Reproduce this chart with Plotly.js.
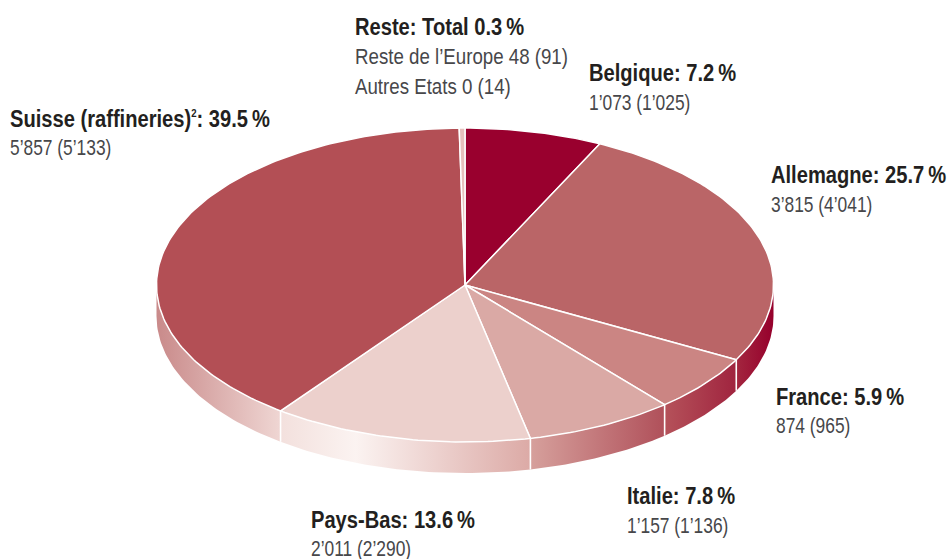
<!DOCTYPE html>
<html><head><meta charset="utf-8">
<script src="https://cdn.plot.ly/plotly-3.0.1.min.js"></script>
<style>html,body{margin:0;padding:0;background:#fff}#c{width:951px;height:559px}</style>
</head><body><div id="c"></div>
<script>
const categories = ["Belgique","Allemagne","France","Italie","Pays-Bas","Suisse (raffineries)","Reste"];
const percents = [7.2,25.7,5.9,7.8,13.6,39.5,0.3];
const colors = ["#99002e","#ba6567","#cb8583","#daa9a5","#ecd0cc","#b34f55","#e6c0bc"];
const wallScales = [null,
  [[0,"#a3263f"],[1,"#96002c"]],
  [[0,"#b5525a"],[1,"#a0243f"]],
  [[0,"#d6a09c"],[1,"#b0505a"]],
  [[0,"#f3e0dd"],[0.3,"#fbf3f1"],[1,"#dcaaa6"]],
  [[0,"#c98a8a"],[1,"#efd6d3"]],
  null];
const heads = ["Belgique: 7.2\u2009%","Allemagne: 25.7\u2009%","France: 5.9\u2009%","Italie: 7.8\u2009%","Pays-Bas: 13.6\u2009%","Suisse (raffineries)<sup><span style=\"font-size:11px\">2</span></sup>: 39.5\u2009%","Reste: Total 0.3\u2009%"];
const subs = [["1’073 (1’025)"],["3’815 (4’041)"],["874 (965)"],["1’157 (1’136)"],["2’011 (2’290)"],["5’857 (5’133)"],["Reste de l’Europe 48 (91)","Autres Etats 0 (14)"]];
const labelX = [588,770,775,626,310,9,354];
const labelY = [73,175,397,496,520,119,27];
const subY = [[102],[204],[425.5],[525],[548],[147],[56.5,86]];

const cx=465, cy=285, rx=308.5, ry=157, depth=31;
const pt=(d,off)=>[cx+rx*Math.sin(d*Math.PI/180), cy-ry*Math.cos(d*Math.PI/180)+off];
function arc(a,b,off){const xs=[],ys=[];const n=Math.max(2,Math.ceil(Math.abs(b-a)));for(let i=0;i<=n;i++){const p=pt(a+(b-a)*i/n,off);xs.push(p[0]);ys.push(p[1]);}return [xs,ys];}

const walls=[],seps=[],tops=[];
let acc=0;
percents.forEach((v,i)=>{
  const a=acc*3.6,b=(acc+v)*3.6;acc+=v;
  const l=Math.max(a,90),r=Math.min(b,270);
  if(r>l && wallScales[i]){
    const t=arc(l,r,0),u=arc(r,l,depth);
    const xs=t[0].concat(u[0]),ys=t[1].concat(u[1]);xs.push(xs[0]);ys.push(ys[0]);
    walls.push({type:"scatter",mode:"lines",x:xs,y:ys,fill:"toself",line:{width:0,color:"rgba(0,0,0,0)"},
      fillgradient:{type:"horizontal",colorscale:wallScales[i],start:Math.min(...xs),stop:Math.max(...xs)},
      hoverinfo:"skip",showlegend:false});
  }
  if(b>=90&&b<=260){
    const p=pt(b,0),q=pt(b,depth);
    seps.push({type:"scatter",mode:"lines",x:[p[0],q[0]],y:[p[1],q[1]],line:{color:"#fff",width:1.6},hoverinfo:"skip",showlegend:false});
  }
  const t=arc(a,b,0);
  tops.push({type:"scatter",mode:"lines",name:categories[i],x:[cx].concat(t[0],[cx]),y:[cy].concat(t[1],[cy]),fill:"toself",fillcolor:colors[i],line:{color:"#fff",width:1.5},hoverinfo:"name",showlegend:false});
});

const FAMILY="'Liberation Sans',sans-serif";
const HEAD={family:FAMILY,size:23,color:"#231f20"};
const SUB={family:FAMILY,size:22,color:"#47474a"};
const ann=[];
const mk=(x,y,text,font)=>ann.push({xref:"x",yref:"y",x,y,text,font,showarrow:false,xanchor:"left",yanchor:"middle",align:"left",borderpad:0});
heads.forEach((h,i)=>{
  mk(labelX[i],labelY[i],"<b>"+h+"</b>",HEAD);
  subs[i].forEach((s,j)=>mk(labelX[i],subY[i][j],s,SUB));
});

Plotly.newPlot("c",walls.concat(seps,tops),{
  width:951,height:559,margin:{l:0,r:0,t:0,b:0},paper_bgcolor:"#fff",plot_bgcolor:"#fff",showlegend:false,
  xaxis:{range:[0,951],visible:false,fixedrange:true},
  yaxis:{range:[559,0],visible:false,fixedrange:true},
  annotations:ann
},{displayModeBar:false,staticPlot:true}).then(gd=>{
  // narrow the label glyphs, since no condensed face is installed
  gd.querySelectorAll("text.annotation-text").forEach(t=>{
    const s=t.textContent;
    const bold=/%/.test(s);
    const k=bold?0.875:(/^[\d’ ()]+$/.test(s)?0.79:0.85);
    const x0=t.getBBox().x;
    t.setAttribute("transform","translate("+x0+",0) scale("+k+",1) translate("+(-x0)+",0)");
  });
});
</script></body></html>
